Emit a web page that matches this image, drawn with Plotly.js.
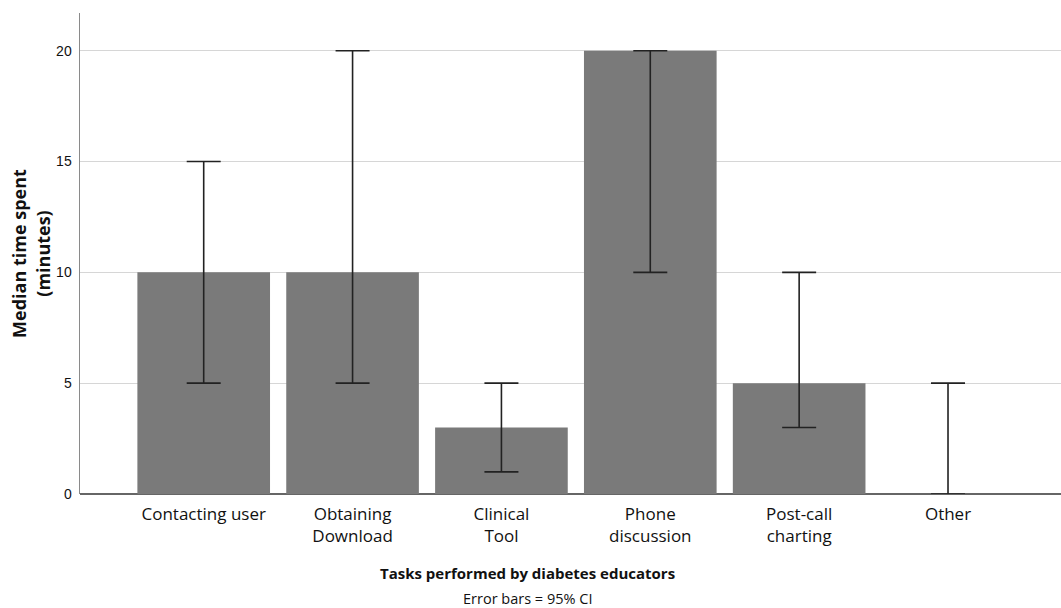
<!DOCTYPE html>
<html>
<head>
<meta charset="utf-8">
<script src="https://cdn.plot.ly/plotly-3.0.1.min.js"></script>
<style>html,body{margin:0;padding:0;background:#fff;}#chart{width:1061px;height:608px;}</style>
</head>
<body>
<div id="chart"></div>
<script>
const categories = ["Contacting user", "Obtaining<br>Download", "Clinical<br>Tool", "Phone<br>discussion", "Post-call<br>charting", "Other"];
const medians = [10, 10, 3, 20, 5, 0];
const ciUpper = [15, 20, 5, 20, 10, 5];
const ciLower = [5, 5, 1, 10, 3, 0];
const yTicks = [0, 5, 10, 15, 20];

const idx = categories.map((_, i) => i);
const trace = {
  type: 'bar',
  x: idx,
  y: medians,
  width: 0.891,
  marker: {color: '#7a7a7a', line: {width: 0}},
  error_y: {
    type: 'data', symmetric: false,
    array: ciUpper.map((u, i) => u - medians[i]),
    arrayminus: medians.map((m, i) => m - ciLower[i]),
    color: '#222222', thickness: 1.6, width: 17
  },
  hoverinfo: 'none'
};

const txtFont = '"Open Sans", Lato, sans-serif';
const layout = {
  width: 1061, height: 608,
  margin: {l: 80, r: 0, t: 13, b: 114},
  paper_bgcolor: '#ffffff', plot_bgcolor: '#ffffff',
  showlegend: false,
  font: {family: txtFont, color: '#111'},
  xaxis: {
    range: [-0.831, 5.759],
    tickmode: 'array', tickvals: idx, ticktext: categories,
    ticks: '', showgrid: false, zeroline: false,
    showline: false,
    ticklabelstandoff: 8,
    tickfont: {family: txtFont, size: 17, color: '#111'}
  },
  yaxis: {
    range: [0, 21.7],
    tickmode: 'array', tickvals: yTicks,
    ticks: '', showgrid: true, gridcolor: '#d6d6d6', gridwidth: 1.3,
    zeroline: true, zerolinecolor: '#666', zerolinewidth: 1.5,
    showline: true, linecolor: '#8a8a8a', linewidth: 1.5,
    tickfont: {family: 'Liberation Sans, Arial, sans-serif', size: 14, color: '#111'},
    ticklabelstandoff: 4,
    title: {text: '<b>Median time spent<br>(minutes)</b>', font: {family: txtFont, size: 18, color: '#111'}, standoff: 1}
  },
  annotations: [
    {
      text: '<b>Tasks performed by diabetes educators</b>', xref: 'paper', yref: 'paper',
      x: 0.4557, y: -0.1642, xanchor: 'center', yanchor: 'middle', showarrow: false,
      font: {family: txtFont, size: 15, color: '#111'}
    },
    {
      text: 'Error bars = 95% CI', xref: 'paper', yref: 'paper',
      x: 0.4557, y: -0.2175, xanchor: 'center', yanchor: 'middle', showarrow: false,
      font: {family: txtFont, size: 14.5, color: '#111'}
    }
  ]
};

Plotly.newPlot('chart', [trace], layout, {displayModeBar: false, staticPlot: true});
</script>
</body>
</html>
